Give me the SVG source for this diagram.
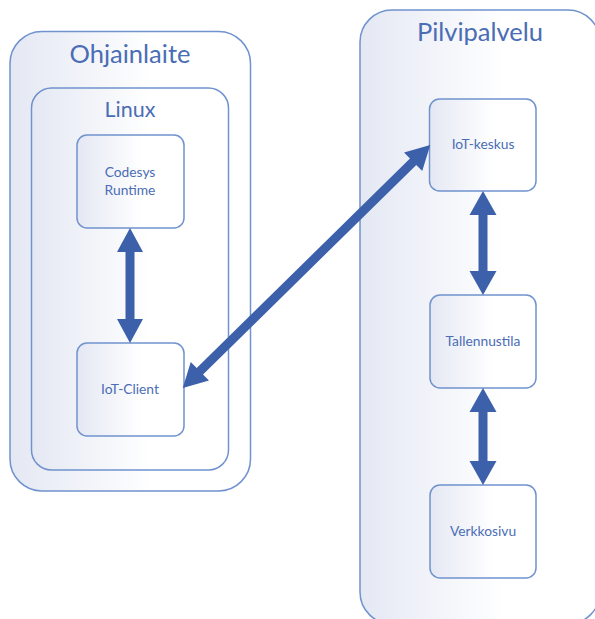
<svg xmlns="http://www.w3.org/2000/svg" width="595" height="619" viewBox="0 0 595 619">
  <defs>
    <linearGradient id="fade" x1="0" y1="0" x2="1" y2="0">
      <stop offset="0" stop-color="#E4E8F3"/>
      <stop offset="0.6" stop-color="#FFFFFF"/>
      <stop offset="1" stop-color="#FFFFFF"/>
    </linearGradient>
  </defs>
  <style>
    .box { fill: url(#fade); stroke: #7092CE; stroke-width: 1.5; }
    .title { font-family: Lato, "Liberation Sans", sans-serif; fill: #4A6DB5; text-anchor: middle; }
    .big { font-size: 25.5px; }
    .mid { font-size: 21.5px; }
    .lbl { font-family: Lato, "Liberation Sans", sans-serif; fill: #4A6DB5; font-size: 13.8px; text-anchor: middle; }
    .arrow { fill: #3C60AA; }
  </style>
  <rect width="595" height="619" fill="#FFFFFF"/>

  <!-- device side -->
  <g id="ohjainlaite">
    <rect class="box" x="10" y="31.5" width="240.5" height="459.5" rx="32"/>
    <text class="title big" x="130" y="63">Ohjainlaite</text>
  </g>
  <g id="linux">
    <rect class="box" x="31.5" y="88" width="197" height="382" rx="20"/>
    <text class="title mid" x="130" y="117">Linux</text>
  </g>
  <g id="codesys-runtime">
    <rect class="box" x="77" y="135" width="107" height="93" rx="10"/>
    <text class="lbl" x="130" y="177">Codesys</text>
    <text class="lbl" x="130" y="195">Runtime</text>
  </g>
  <g id="iot-client">
    <rect class="box" x="77" y="343" width="107" height="93" rx="10"/>
    <text class="lbl" x="130" y="394">IoT-Client</text>
  </g>

  <!-- cloud side -->
  <g id="pilvipalvelu">
    <rect class="box" x="360" y="10" width="240" height="614" rx="32"/>
    <text class="title big" x="480" y="41">Pilvipalvelu</text>
  </g>
  <g id="iot-keskus">
    <rect class="box" x="429.5" y="99" width="106.5" height="92" rx="10"/>
    <text class="lbl" x="483" y="149">IoT-keskus</text>
  </g>
  <g id="tallennustila">
    <rect class="box" x="430" y="295" width="106" height="93" rx="10"/>
    <text class="lbl" x="483" y="346">Tallennustila</text>
  </g>
  <g id="verkkosivu">
    <rect class="box" x="430" y="485" width="106" height="93" rx="10"/>
    <text class="lbl" x="483" y="536">Verkkosivu</text>
  </g>

  <!-- double-headed block arrows -->
  <g id="connectors">
    <polygon class="arrow" points="130,228 143,252 134.5,252 134.5,319 143,319 130,343 117,319 125.5,319 125.5,252 117,252"/>
    <polygon class="arrow" points="483,191 496.5,215 487.5,215 487.5,271 496.5,271 483,295 469.5,271 478.5,271 478.5,215 469.5,215"/>
    <polygon class="arrow" points="483,388 496.5,412 487.5,412 487.5,461 496.5,461 483,485 469.5,461 478.5,461 478.5,412 469.5,412"/>
    <polygon class="arrow" transform="translate(306.5,266.5) rotate(-44.5)" points="-173.5,0 -149.5,-13 -149.5,-4.5 149.5,-4.5 149.5,-13 173.5,0 149.5,13 149.5,4.5 -149.5,4.5 -149.5,13"/>
  </g>
</svg>
